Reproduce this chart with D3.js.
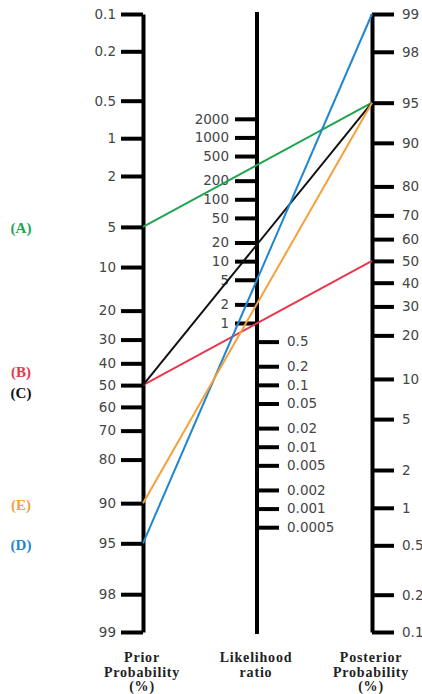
<!DOCTYPE html>
<html><head><meta charset="utf-8">
<script src="https://cdn.jsdelivr.net/npm/d3@7"></script>
<style>
body{margin:0;background:#fff;}
svg{display:block;}
.tk text{font-family:"DejaVu Sans",sans-serif;font-size:13.5px;fill:#454545;}
.title{font-family:"Liberation Serif",serif;font-weight:bold;font-size:14px;fill:#222;letter-spacing:0.8px;}
.case{font-family:"Liberation Serif",serif;font-weight:bold;font-size:15px;}
</style></head>
<body>
<svg id="c" width="422" height="694"></svg>
<script>
// ---- data ----
const priorTicks = [0.1,0.2,0.5,1,2,5,10,20,30,40,50,60,70,80,90,95,98,99];
const postTicks  = [99,98,95,90,80,70,60,50,40,30,20,10,5,2,1,0.5,0.2,0.1];
const lrTicksHigh = [2000,1000,500,200,100,50,20,10,5,2,1];
const lrTicksLow  = [0.5,0.2,0.1,0.05,0.02,0.01,0.005,0.002,0.001,0.0005];
const cases   = ["(A)","(B)","(C)","(D)","(E)"];
const priors  = [5,50,50,95,90];      // prior probability (%)
const posts   = [95,50,95,99,95];     // posterior probability (%)
const colors  = ["#1fa550","#e8384c","#111111","#1f86d0","#f7a03a"];
const labelY  = [228,372,393,545,505];

// ---- scales ----
const logit = p => Math.log((p/100)/(1-p/100));
const yTop = 14, yBot = 632;
const xL = 143, xM = 257, xR = 372;
const yPrior = d3.scaleLinear().domain([logit(0.1), logit(99)]).range([yTop, yBot]);
const yPost  = d3.scaleLinear().domain([logit(99), logit(0.1)]).range([yTop, yBot]);
const kPx = (yBot-yTop)/(logit(99)-logit(0.1));
const yMid = (yPrior(logit(50)) + yPost(logit(50)))/2;
const yLR = d3.scaleLog().domain([1,10]).range([yMid, yMid - kPx/2*Math.log(10)]);

const svg = d3.select("#c");

function styleAxis(g){
  g.classed("tk", true);
  g.select(".domain").attr("stroke","#000").attr("stroke-width",4);
  g.selectAll(".tick line").attr("stroke","#000").attr("stroke-width",4);
}

// Left axis
svg.append("g").attr("transform",`translate(${xL},0)`)
  .call(d3.axisLeft(yPrior).tickValues(priorTicks.map(logit))
        .tickFormat((d,i)=>priorTicks[i]).tickSize(22).tickSizeOuter(0).tickPadding(5))
  .call(styleAxis);

// Right axis
svg.append("g").attr("transform",`translate(${xR},0)`)
  .call(d3.axisRight(yPost).tickValues(postTicks.map(logit))
        .tickFormat((d,i)=>postTicks[i]).tickSize(22).tickSizeOuter(0).tickPadding(8))
  .call(styleAxis);

// Middle axis
svg.append("line").attr("x1",xM).attr("x2",xM).attr("y1",12).attr("y2",634)
  .attr("stroke","#000").attr("stroke-width",4);
svg.append("g").attr("transform",`translate(${xM},0)`)
  .call(d3.axisLeft(yLR).tickValues(lrTicksHigh).tickFormat(d=>d)
        .tickSize(22).tickSizeOuter(0).tickPadding(6))
  .call(styleAxis).call(g=>g.select(".domain").remove());
svg.append("g").attr("transform",`translate(${xM},0)`)
  .call(d3.axisRight(yLR).tickValues(lrTicksLow).tickFormat(d=>d)
        .tickSize(22).tickSizeOuter(0).tickPadding(8))
  .call(styleAxis).call(g=>g.select(".domain").remove());

// Lines
svg.append("g").selectAll("line").data(cases).join("line")
  .attr("x1",xL).attr("x2",xR)
  .attr("y1",(d,i)=>yPrior(logit(priors[i])))
  .attr("y2",(d,i)=>yPost(logit(posts[i])))
  .attr("stroke",(d,i)=>colors[i]).attr("stroke-width",2);

// Case labels
svg.append("g").selectAll("text").data(cases).join("text").attr("class","case")
  .attr("x",21).attr("y",(d,i)=>labelY[i]).attr("dy","0.35em")
  .attr("text-anchor","middle").attr("fill",(d,i)=>colors[i]).text(d=>d);

// Titles
const titles = [
  {x:142, lines:["Prior","Probability","(%)"]},
  {x:256, lines:["Likelihood","ratio"]},
  {x:371, lines:["Posterior","Probability","(%)"]}
];
titles.forEach(t=>{
  const tx = svg.append("text").attr("class","title").attr("text-anchor","middle");
  t.lines.forEach((l,i)=>tx.append("tspan").attr("x",t.x).attr("y",662+i*14.5).text(l));
});
</script>
</body></html>
